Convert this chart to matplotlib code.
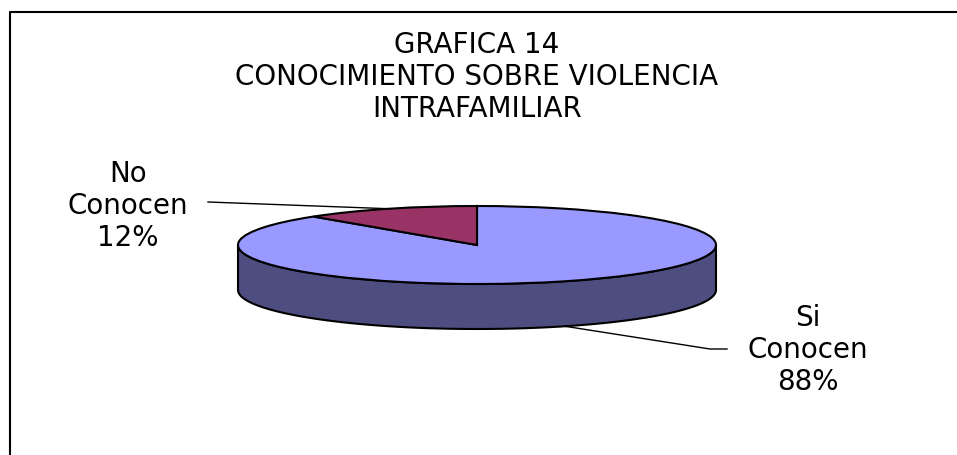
import matplotlib.pyplot as plt
import numpy as np
from matplotlib.patches import Polygon

plt.rcParams['font.family'] = ['DejaVu Sans']

labels = ['Si\nConocen', 'No\nConocen']
values = [88, 12]
top_colors = ['#9999FF', '#993366']
side_colors = ['#4D4D80', '#5C1F3D']
title = 'GRAFICA 14\nCONOCIMIENTO SOBRE VIOLENCIA\nINTRAFAMILIAR'

W, H = 957, 456
# pie geometry in pixels
cx, cy, rx, ry, depth = 477, 246, 239, 39, 45
d = depth / ry

fig = plt.figure(figsize=(W / 100, H / 100), dpi=100)
ax = fig.add_axes([0, 0, 1, 1])

wedges, _ = ax.pie(values, startangle=90, counterclock=False, colors=top_colors,
                   wedgeprops=dict(edgecolor='black', linewidth=1.5))
for w in wedges:
    w.set_zorder(3)
ax.set_aspect('auto')
ax.set_xlim((0 - cx) / rx, (W - cx) / rx)
ax.set_ylim((cy - H) / ry, (cy - 0) / ry)
ax.axis('off')

# side of the cake: only the front half (180..360 deg) is visible
frac = np.array(values) / sum(values)
ends = 90 - np.cumsum(frac) * 360
starts = ends + frac * 360
for s, e, col in zip(starts, ends, side_colors):
    for k in range(-1, 2):
        lo = max(e + 360 * k, 180)
        hi = min(s + 360 * k, 360)
        if hi <= lo:
            continue
        t = np.radians(np.linspace(lo, hi, 100))
        xs = np.cos(t)
        ys = np.sin(t)
        pts = np.concatenate([np.column_stack([xs, ys]),
                              np.column_stack([xs[::-1], ys[::-1] - d])])
        ax.add_patch(Polygon(pts, closed=True, facecolor=col, edgecolor='black',
                             linewidth=1.5, zorder=2))


def px(x, y):
    return (x - cx) / rx, (cy - y) / ry


mids = np.radians((starts + ends) / 2)

# labels and leader lines
pct = [f'{v}%' for v in values]
# Si
m = mids[0]
ax.plot([np.cos(m), px(710, 0)[0], px(727, 0)[0]],
        [np.sin(m) - d, px(0, 350)[1], px(0, 350)[1]], color='black', lw=1, zorder=4)
ax.text(*px(808, 350), labels[0] + '\n' + pct[0], ha='center', va='center',
        fontsize=20, linespacing=1.18)
# No
m = mids[1]
ax.plot([px(208, 0)[0], np.cos(m)], [px(0, 203)[1], np.sin(m)],
        color='black', lw=1, zorder=4)
ax.text(*px(128, 206), labels[1] + '\n' + pct[1], ha='center', va='center',
        fontsize=20, linespacing=1.18)

ax.text(*px(477, 77), title, ha='center', va='center', fontsize=20, linespacing=1.18)

# chart area frame (only top and left visible)
ax.plot([px(10, 0)[0], px(10, 0)[0], px(960, 0)[0]],
        [px(0, 460)[1], px(0, 13)[1], px(0, 13)[1]], color='black', lw=1.5,
        clip_on=False)

fig.savefig('out.png', dpi=100)
